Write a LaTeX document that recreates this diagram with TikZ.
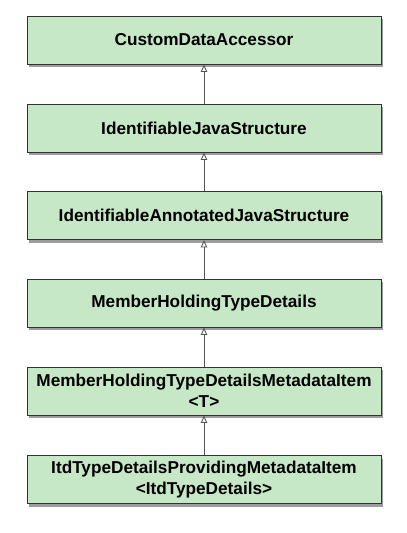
\documentclass[tikz,border=0pt]{standalone}
\usepackage{fontspec}
\setmainfont{Liberation Sans}
\usetikzlibrary{arrows.meta,shadows}
\definecolor{boxfill}{HTML}{C6E8C6}
\definecolor{boxline}{HTML}{333333}
\definecolor{arrline}{HTML}{555555}
\begin{document}
\begin{tikzpicture}[x=1pt,y=-1pt,
  cls/.style={draw=boxline, line width=0.9pt, fill=boxfill, minimum width=354pt, minimum height=48pt,
    inner sep=0pt, align=center, font=\fontsize{17.2}{21}\selectfont\bfseries,
    drop shadow={shadow xshift=1.5pt, shadow yshift=-3pt, opacity=0.55, fill=black!70}},
  gen/.style={draw=arrline, line width=0.9pt, -{Triangle[open, width=6.5pt, length=7.5pt]}}]
\useasboundingbox (0,0) rectangle (407,533);
\node[cls] (a) at (204,40) {CustomDataAccessor};
\node[cls] (b) at (204,128) {IdentifiableJavaStructure};
\node[cls] (c) at (204,215.5) {IdentifiableAnnotatedJavaStructure};
\node[cls] (d) at (204,303) {MemberHoldingTypeDetails};
\node[cls] (e) at (204,391) {MemberHoldingTypeDetailsMetadataItem\\\textless T\textgreater};
\node[cls] (f) at (204,479.5) {ItdTypeDetailsProvidingMetadataItem\\\textless ItdTypeDetails\textgreater};
\draw[gen] (b) -- (a);
\draw[gen] (c) -- (b);
\draw[gen] (d) -- (c);
\draw[gen] (e) -- (d);
\draw[gen] (f) -- (e);
\end{tikzpicture}
\end{document}
